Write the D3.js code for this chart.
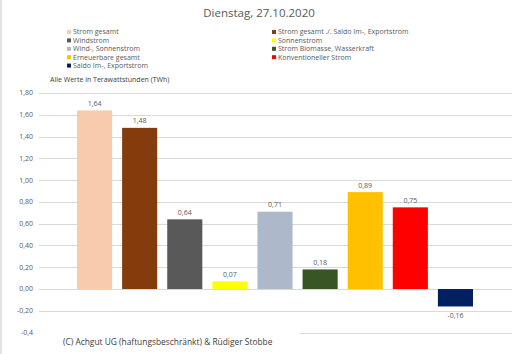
<!DOCTYPE html>
<html>
<head>
<meta charset="utf-8">
<script src="https://cdn.jsdelivr.net/npm/d3@7"></script>
<style>
  body { margin: 0; background: #fff; }
  svg { display: block; font-family: "Open Sans", sans-serif; }
</style>
</head>
<body>
<svg id="drawing_region"></svg>
<script>
const categories = ['Strom gesamt', 'Strom gesamt ./. Saldo Im-, Exportstrom', 'Windstrom', 'Sonnenstrom',
  'Wind-, Sonnenstrom', 'Strom Biomasse, Wasserkraft', 'Erneuerbare gesamt', 'Konventioneller Strom', 'Saldo Im-, Exportstrom'];
const values = [1.64, 1.48, 0.64, 0.07, 0.71, 0.18, 0.89, 0.75, -0.16];
const colors = ['#F8CBAD', '#843C0C', '#595959', '#FFFF00', '#ADB9CA', '#375623', '#FFC000', '#FF0000', '#002060'];
const yTicks = [-0.4, -0.2, 0, 0.2, 0.4, 0.6, 0.8, 1.0, 1.2, 1.4, 1.6, 1.8];
const legendOrder = [0, 1, 2, 3, 4, 5, 6, 7, 8];

const width = 512, height = 354;
const svg = d3.select('#drawing_region').attr('width', width).attr('height', height);
const fmt = v => d3.format('.2f')(v).replace('.', ',').replace('\u2212', '-');

// scales
const xscale = d3.scaleBand().domain(categories).range([72, 478]).paddingInner(0.222).paddingOuter(0.111);
const yscale = d3.scaleLinear().domain([-0.4, 1.8]).range([332.6, 93]);

// left frame line
svg.append('line').attr('x1', 1).attr('x2', 1).attr('y1', 0).attr('y2', height)
  .attr('stroke', '#d9d9d9').attr('stroke-width', 1.5);

// grid
svg.append('g').selectAll('line').data(yTicks).join('line')
  .attr('x1', 39).attr('x2', 512)
  .attr('y1', d => Math.round(yscale(d)) + 0.5).attr('y2', d => Math.round(yscale(d)) + 0.5)
  .attr('stroke', '#d9d9d9').attr('stroke-width', 1);

// y tick labels
svg.append('g').selectAll('text').data(yTicks).join('text')
  .attr('x', 33).attr('y', d => yscale(d)).attr('dy', '0.35em')
  .attr('text-anchor', 'end').attr('font-size', 7).attr('fill', '#595959')
  .text(d => d === -0.4 ? '-0,4' : fmt(d));

// bars
svg.append('g').selectAll('rect').data(values).join('rect')
  .attr('x', (d, i) => xscale(categories[i]))
  .attr('width', xscale.bandwidth())
  .attr('y', d => yscale(Math.max(0, d)))
  .attr('height', d => Math.abs(yscale(d) - yscale(0)))
  .attr('fill', (d, i) => colors[i]);

// value labels
svg.append('g').selectAll('text').data(values).join('text')
  .attr('x', (d, i) => xscale(categories[i]) + xscale.bandwidth() / 2)
  .attr('y', d => d >= 0 ? yscale(d) - 7 : yscale(d) + 9)
  .attr('dy', '0.35em').attr('text-anchor', 'middle')
  .attr('font-size', 7).attr('fill', '#595959')
  .text(d => fmt(d));

// title
svg.append('text').attr('x', 259).attr('y', 13).attr('dy', '0.35em')
  .attr('text-anchor', 'middle').attr('font-size', 11.5).attr('fill', '#595959')
  .text('Dienstag, 27.10.2020');

// legend
const legend = svg.append('g').selectAll('g').data(legendOrder).join('g')
  .attr('transform', (d, i) => `translate(${i % 2 === 0 ? 67 : 272}, ${32 + Math.floor(i / 2) * 8.4})`);
legend.append('rect').attr('x', 0).attr('y', -2).attr('width', 4).attr('height', 4)
  .attr('fill', d => colors[d]);
legend.append('text').attr('x', 6).attr('y', 0).attr('dy', '0.35em')
  .attr('font-size', 7).attr('fill', '#595959')
  .text(d => categories[d]);

// unit note
svg.append('text').attr('x', 50).attr('y', 80).attr('dy', '0.35em')
  .attr('font-size', 7).attr('fill', '#404040')
  .text('Alle Werte in Terawattstunden (TWh)');

// copyright box
svg.append('rect').attr('x', 36).attr('y', 322).attr('width', 264).attr('height', 32).attr('fill', '#fff');
svg.append('text').attr('x', 63).attr('y', 342).attr('dy', '0.35em')
  .attr('font-size', 8.4).attr('fill', '#404040')
  .text('(C) Achgut UG (haftungsbeschränkt) & Rüdiger Stobbe');
</script>
</body>
</html>
